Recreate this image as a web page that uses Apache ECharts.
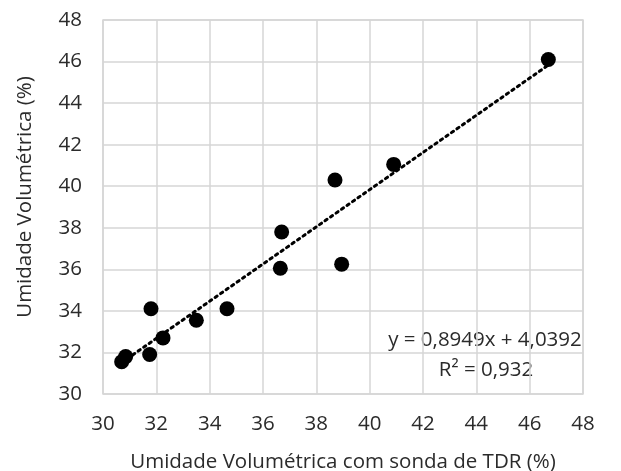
<!DOCTYPE html>
<html>
<head>
<meta charset="utf-8">
<script src="https://cdn.jsdelivr.net/npm/echarts@6/dist/echarts.min.js"></script>
<style>
  html, body { margin: 0; padding: 0; background: #fff; }
  #chart { width: 621px; height: 471px; }
</style>
</head>
<body>
<div id="chart"></div>
<script>
// TDR probe reading vs measured volumetric moisture
const tdrValues = [46.7, 40.9, 38.7, 36.7, 36.65, 38.95, 31.8, 34.65, 33.5, 32.25, 31.75, 30.85, 30.7];
const moisture = [46.1, 41.05, 40.3, 37.8, 36.05, 36.25, 34.1, 34.1, 33.55, 32.7, 31.9, 31.8, 31.55];
const slope = 0.8949;
const intercept = 4.0392;
const rSquared = "0,932";
const axisTicks = [30, 32, 34, 36, 38, 40, 42, 44, 46, 48];

const font = "'Open Sans', sans-serif";
const textColor = "#2b2b2b";
const fontSize = 20.5;

const points = tdrValues.map((x, i) => [x, moisture[i]]);
const xMin = Math.min(...tdrValues);
const xMax = Math.max(...tdrValues);
const trend = [xMin, xMax].map(x => [x, slope * x + intercept]);

const chart = echarts.init(document.getElementById("chart"), null, {renderer: "canvas"});

function axis() {
  return {
    type: "value",
    min: axisTicks[0],
    max: axisTicks[axisTicks.length - 1],
    interval: 2,
    axisLine: {show: false},
    axisTick: {show: false},
    splitLine: {show: true, lineStyle: {color: "#d6d6d6", width: 1.5}},
  };
}

chart.setOption({
  animation: false,
  backgroundColor: "#fff",
  grid: {
    left: 103, right: 38, top: 20, bottom: 77,
    outerBoundsMode: "none", containLabel: false,
    show: true, borderColor: "#d6d6d6", borderWidth: 1.5,
  },
  xAxis: Object.assign(axis(), {
    name: "Umidade Volumétrica com sonda de TDR (%)",
    nameLocation: "middle",
    nameGap: 58,
    nameTextStyle: {color: textColor, fontFamily: font, fontSize: fontSize},
    axisLabel: {color: textColor, fontFamily: font, fontSize: fontSize, margin: 20},
  }),
  yAxis: Object.assign(axis(), {
    axisLabel: {color: textColor, fontFamily: font, fontSize: fontSize, margin: 21},
  }),
  graphic: [
    {
      type: "text",
      x: 25,
      y: 197,
      rotation: Math.PI / 2,
      style: {
        text: "Umidade Volumétrica (%)",
        fill: textColor,
        font: fontSize + "px " + font,
        align: "center",
        verticalAlign: "middle",
      },
    },
    {
      type: "text",
      x: 485,
      y: 340,
      style: {
        text: "y = " + String(slope).replace(".", ",") + "x + " + String(intercept).replace(".", ","),
        fill: textColor,
        font: fontSize + "px " + font,
        align: "center",
        verticalAlign: "middle",
      },
    },
    {
      type: "text",
      x: 486,
      y: 370,
      style: {
        text: "R² = " + rSquared,
        fill: textColor,
        font: fontSize + "px " + font,
        align: "center",
        verticalAlign: "middle",
      },
    },
  ],
  series: [
    {
      type: "line",
      data: trend,
      symbol: "none",
      z: 3,
      lineStyle: {color: "#000", width: 3, type: [2.5, 4.2], cap: "round"},
    },
    {
      type: "scatter",
      data: points,
      symbol: "circle",
      symbolSize: 15,
      z: 4,
      itemStyle: {color: "#000", opacity: 1},
    },
  ],
});
</script>
</body>
</html>
